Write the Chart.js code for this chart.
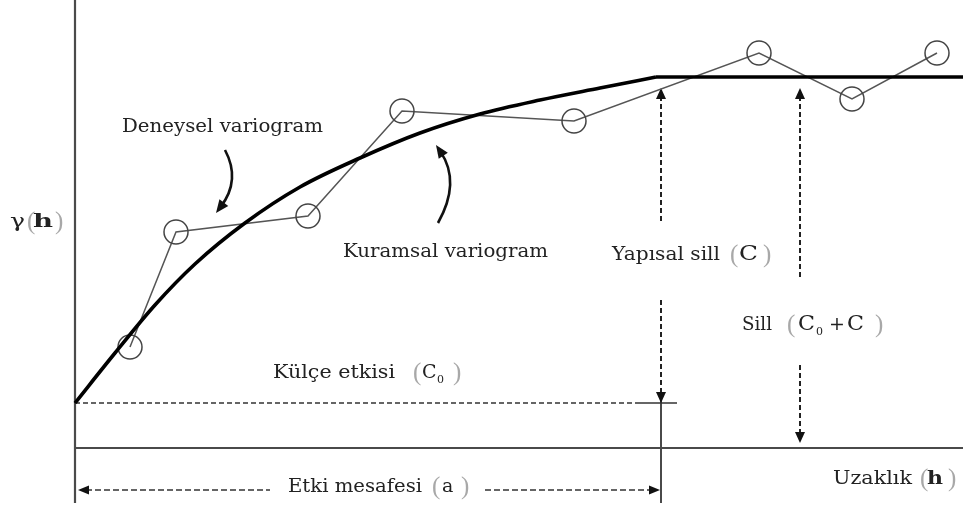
<!DOCTYPE html>
<html>
<head>
<meta charset="utf-8">
<script src="https://cdn.jsdelivr.net/npm/chart.js@4.4.1/dist/chart.umd.min.js"></script>
<style>
  html, body { margin: 0; padding: 0; background: #fff; }
  #wrap { width: 963px; height: 512px; }
</style>
</head>
<body>
<div id="wrap"><canvas id="variogram" width="963" height="512"></canvas></div>
<script>
// experimental variogram: lag h and semivariance
const expLag = [55, 101, 233, 327, 499, 684, 777, 862];
const expGamma = [101, 216, 232, 337, 327, 395, 349, 395];

// fitted model up to the range, then the flat sill
const modelLag = [0, 40, 80, 120, 170, 225, 285, 345, 405, 465, 525, 581];
const modelGamma = [45, 95, 143, 184, 225, 261, 290, 315, 334, 348, 360, 371];
const sillLag = [581, 888];
const sillGamma = [371, 371];

const nugget = 45;     // C0
const rangeA = 586;    // a
const sill = 371;      // C0 + C
const hMax = 888;
const gMax = 448;

const toPoints = (xs, ys) => xs.map((x, i) => ({ x: x, y: ys[i] }));

const TXT = '19px "DejaVu Serif"';
const BIG = '21px "DejaVu Serif"';
const PAR = '25px "Liberation Serif"';
const SUB = '11px "DejaVu Serif"';

// label anchors are in data units, part offsets in pixels
// part: [text, dx, width, kind]  (width 0 = natural)
const labels = [
    { x: -65, y: 226, parts: [['γ', 0, 15, 'txt'], ['(', 17, 0, 'par'], ['h', 23, 20, 'bold'], [')', 45, 0, 'par']] },
    { x: 47, y: 321, parts: [['Deneysel variogram', 0, 201, 'txt']] },
    { x: 268, y: 196, parts: [['Kuramsal variogram', 0, 205, 'txt']] },
    { x: 537, y: 193, parts: [['Yapısal sill', 0, 108, 'txt'], ['(', 118, 0, 'par'], ['C', 127, 19, 'big'], [')', 151, 0, 'par']] },
    { x: 667, y: 123, parts: [['Sill', 0, 30, 'txt'], ['(', 45, 0, 'par'], ['C', 56, 17, 'big'], ['0', 74, 0, 'sub'],
        ['+', 87, 0, 'txt'], ['C', 105, 17, 'big'], [')', 133, 0, 'par']] },
    { x: 198, y: 75, parts: [['Külçe etkisi', 0, 122, 'txt'], ['(', 140, 0, 'par'], ['C', 149, 0, 'txt'], ['0', 164, 0, 'sub'], [')', 180, 0, 'par']] },
    { x: 213, y: -39, parts: [['Etki mesafesi', 0, 134, 'txt'], ['(', 144, 0, 'par'], ['a', 154, 0, 'txt'], [')', 173, 0, 'par']] },
    { x: 758, y: -31, parts: [['Uzaklık', 0, 79, 'txt'], ['(', 87, 0, 'par'], ['h', 94, 16, 'bold'], [')', 115, 0, 'par']] }
];

function arrowHead(ctx, tx, ty, ang, len, half) {
    const c = Math.cos(ang), s = Math.sin(ang);
    ctx.beginPath();
    ctx.moveTo(tx, ty);
    ctx.lineTo(tx - len * c + half * s, ty - len * s - half * c);
    ctx.lineTo(tx - len * c - half * s, ty - len * s + half * c);
    ctx.closePath();
    ctx.fill();
}

function seg(ctx, x1, y1, x2, y2, dash) {
    ctx.setLineDash(dash || []);
    ctx.beginPath();
    ctx.moveTo(x1, y1);
    ctx.lineTo(x2, y2);
    ctx.stroke();
    ctx.setLineDash([]);
}

function fitText(ctx, str, x, y, w) {
    const m = ctx.measureText(str).width;
    ctx.save();
    ctx.translate(x, y);
    if (w > 0) ctx.scale(w / m, 1);
    ctx.fillText(str, 0, 0);
    ctx.restore();
}

const guides = {
    id: 'guides',
    beforeDatasetsDraw(chart) {
        const ctx = chart.ctx;
        const X = v => chart.scales.x.getPixelForValue(v);
        const Y = v => chart.scales.y.getPixelForValue(v);
        ctx.save();

        // axes
        ctx.strokeStyle = '#4a4a4a';
        ctx.lineWidth = 2.2;
        seg(ctx, X(0), Y(gMax), X(0), Y(-55));
        seg(ctx, X(0), Y(0), X(hMax), Y(0));
        // range marker
        ctx.lineWidth = 2;
        seg(ctx, X(rangeA), Y(nugget + 8), X(rangeA), Y(-55));

        // nugget level
        ctx.strokeStyle = '#333';
        ctx.lineWidth = 1.5;
        seg(ctx, X(0), Y(nugget), X(565), Y(nugget), [5, 3]);
        seg(ctx, X(565), Y(nugget), X(602), Y(nugget));

        // vertical dotted arrows
        ctx.strokeStyle = '#222';
        ctx.fillStyle = '#111';
        ctx.lineWidth = 2;
        const tipUp = sill - 11;
        seg(ctx, X(rangeA), Y(tipUp) + 8, X(rangeA), Y(226), [5, 3]);
        arrowHead(ctx, X(rangeA), Y(tipUp), -Math.PI / 2, 11, 5);
        seg(ctx, X(rangeA), Y(148), X(rangeA), Y(nugget) - 8, [5, 3]);
        arrowHead(ctx, X(rangeA), Y(nugget), Math.PI / 2, 11, 5);

        seg(ctx, X(725), Y(tipUp) + 8, X(725), Y(168), [5, 3]);
        arrowHead(ctx, X(725), Y(tipUp), -Math.PI / 2, 11, 5);
        seg(ctx, X(725), Y(83), X(725), Y(5) - 8, [5, 3]);
        arrowHead(ctx, X(725), Y(5), Math.PI / 2, 11, 5);

        // range arrow below the axis
        ctx.strokeStyle = '#333';
        ctx.lineWidth = 1.5;
        seg(ctx, X(3) + 8, Y(-42), X(195), Y(-42), [6, 3]);
        arrowHead(ctx, X(3), Y(-42), Math.PI, 11, 4.5);
        seg(ctx, X(410), Y(-42), X(rangeA - 1) - 8, Y(-42), [6, 3]);
        arrowHead(ctx, X(rangeA - 1), Y(-42), 0, 11, 4.5);
        ctx.restore();
    },
    afterDatasetsDraw(chart) {
        const ctx = chart.ctx;
        const X = v => chart.scales.x.getPixelForValue(v);
        const Y = v => chart.scales.y.getPixelForValue(v);
        ctx.save();

        // curved pointer arrows
        ctx.strokeStyle = '#111';
        ctx.fillStyle = '#111';
        ctx.lineWidth = 2.6;
        const curved = [
            [[150, 298], [166, 268], [141, 235]],
            [[363, 225], [386, 266], [361, 303]]
        ];
        curved.forEach(([p0, c, p2]) => {
            const x0 = X(p0[0]), y0 = Y(p0[1]);
            const cx = X(c[0]), cy = Y(c[1]);
            const x2 = X(p2[0]), y2 = Y(p2[1]);
            const ang = Math.atan2(y2 - cy, x2 - cx);
            ctx.beginPath();
            ctx.moveTo(x0, y0);
            ctx.quadraticCurveTo(cx, cy, x2 - 8 * Math.cos(ang), y2 - 8 * Math.sin(ang));
            ctx.stroke();
            arrowHead(ctx, x2, y2, ang, 13, 5.5);
        });

        // labels
        ctx.textBaseline = 'middle';
        ctx.textAlign = 'left';
        labels.forEach(lb => {
            const lx = X(lb.x), ly = Y(lb.y);
            lb.parts.forEach(([t, dx, w, kind]) => {
                if (kind === 'par') {
                    ctx.font = PAR;
                    ctx.fillStyle = '#a8a8a8';
                    ctx.fillText(t, lx + dx, ly);
                } else if (kind === 'sub') {
                    ctx.font = SUB;
                    ctx.fillStyle = '#222';
                    ctx.fillText(t, lx + dx, ly + 7);
                } else {
                    ctx.font = kind === 'bold' ? 'bold ' + TXT : (kind === 'big' ? BIG : TXT);
                    ctx.fillStyle = '#222';
                    fitText(ctx, t, lx + dx, ly, w);
                }
            });
        });
        ctx.restore();
    }
};

new Chart(document.getElementById('variogram'), {
    type: 'scatter',
    data: {
        datasets: [
            {
                label: 'Kuramsal variogram',
                data: toPoints(modelLag, modelGamma),
                showLine: true,
                borderColor: '#000',
                borderWidth: 3.6,
                pointRadius: 0,
                cubicInterpolationMode: 'monotone',
                clip: false
            },
            {
                label: 'Sill',
                data: toPoints(sillLag, sillGamma),
                showLine: true,
                borderColor: '#000',
                borderWidth: 3.6,
                pointRadius: 0,
                clip: false
            },
            {
                label: 'Deneysel variogram',
                data: toPoints(expLag, expGamma),
                showLine: true,
                borderColor: '#555',
                borderWidth: 1.5,
                pointRadius: 12,
                pointBorderWidth: 1.5,
                pointBorderColor: '#444',
                pointBackgroundColor: 'rgba(0,0,0,0)',
                clip: false
            }
        ]
    },
    options: {
        responsive: false,
        devicePixelRatio: 1,
        animation: false,
        layout: { autoPadding: false, padding: { left: 75, right: 0, top: 0, bottom: 64 } },
        scales: {
            x: { type: 'linear', min: 0, max: hMax, display: false },
            y: { type: 'linear', min: 0, max: gMax, display: false }
        },
        plugins: {
            legend: { display: false },
            tooltip: { enabled: false }
        }
    },
    plugins: [guides]
});
</script>
</body>
</html>
